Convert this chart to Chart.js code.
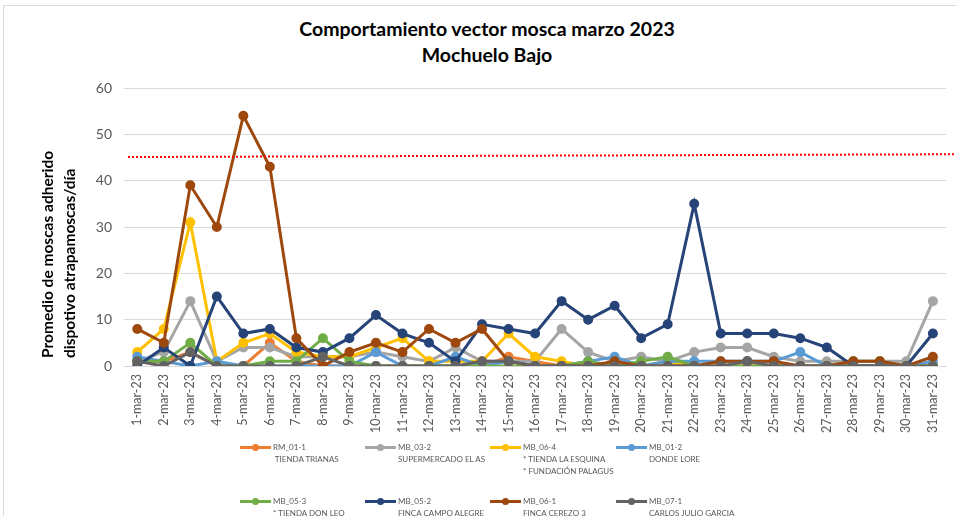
<!DOCTYPE html>
<html lang="es">
<head>
<meta charset="utf-8">
<title>Comportamiento vector mosca marzo 2023</title>
<script src="https://cdn.jsdelivr.net/npm/chart.js@4/dist/chart.umd.min.js"></script>
<style>
    body { margin: 0; background: #fff; font-family: Lato, 'Liberation Sans', sans-serif; }
    #contenedor { position: relative; width: 956px; height: 516px; overflow: hidden; }
    #marco { position: absolute; left: 3px; top: 5px; width: 970px; height: 530px; border: 1px solid #d9d9d9; }
    #titulo { position: absolute; left: 0; top: 16px; width: 974px; text-align: center; font-weight: bold; font-size: 19.5px; line-height: 26px; color: #000; }
    canvas { position: absolute; left: 0; top: 0; }
    .leyenda { position: absolute; font-size: 8px; line-height: 12px; color: #595959; white-space: pre; }
    .muestra { position: absolute; height: 3px; width: 31px; }
    .muestra i { position: absolute; left: 12px; top: -2px; width: 7px; height: 7px; border-radius: 50%; background: inherit; }
</style>
</head>
<body>
<div id="contenedor">
    <div id="marco"></div>
    <div id="titulo">Comportamiento vector mosca marzo 2023<br>Mochuelo Bajo</div>
    <canvas id="grafico" width="956" height="516"></canvas>
    <div id="leyenda"></div>
</div>
<script>
const fechas = ['1-mar-23', '2-mar-23', '3-mar-23', '4-mar-23', '5-mar-23', '6-mar-23', '7-mar-23', '8-mar-23',
    '9-mar-23', '10-mar-23', '11-mar-23', '12-mar-23', '13-mar-23', '14-mar-23', '15-mar-23', '16-mar-23',
    '17-mar-23', '18-mar-23', '19-mar-23', '20-mar-23', '21-mar-23', '22-mar-23', '23-mar-23', '24-mar-23',
    '25-mar-23', '26-mar-23', '27-mar-23', '28-mar-23', '29-mar-23', '30-mar-23', '31-mar-23'];

const rm011 = [1, 1, 3, 0, 0, 5, 1, 0, 0, 0, 0, 0, 0, 0, 2, 1, 0, 0, 0, 0, 0, 0, 0, 0, 0, 0, 0, 0, 0, 0, 0];
const mb032 = [1, 3, 14, 1, 4, 4, 2, 2, 2, 3, 2, 1, 4, 1, 1, 1, 8, 3, 1, 2, 1, 3, 4, 4, 2, 1, 1, 1, 1, 1, 14];
const mb064 = [3, 8, 31, 1, 5, 7, 3, 2, 2, 4, 6, 1, 1, 1, 7, 2, 1, 0, 0, 0, 1, 0, 0, 0, 0, 0, 0, 0, 0, 0, 0];
const mb012 = [2, 1, 0, 1, 0, 0, 0, 0, 0, 3, 0, 0, 2, 0, 1, 0, 0, 1, 2, 0, 1, 1, 1, 1, 1, 3, 0, 0, 0, 0, 1];
const mb053 = [1, 1, 5, 0, 0, 1, 1, 6, 1, 0, 0, 0, 0, 0, 0, 0, 0, 1, 0, 1, 2, 0, 0, 0, 0, 0, 0, 1, 1, 0, 0];
const mb052 = [0, 4, 0, 15, 7, 8, 4, 3, 6, 11, 7, 5, 1, 9, 8, 7, 14, 10, 13, 6, 9, 35, 7, 7, 7, 6, 4, 0, 0, 0, 7];
const mb061 = [8, 5, 39, 30, 54, 43, 6, 0, 3, 5, 3, 8, 5, 8, 1, 0, 0, 0, 1, 0, 0, 0, 1, 1, 1, 0, 0, 1, 1, 0, 2];
const mb071 = [1, 0, 3, 0, 0, 0, 0, 2, 0, 0, 0, 0, 0, 1, 1, 0, 0, 0, 0, 0, 0, 0, 0, 1, 0, 0, 0, 0, 0, 0, 0];

// umbral de referencia (línea punteada roja), valor al inicio y al final
const umbralInicio = 45.1;
const umbralFin = 45.7;

const ticksY = [0, 10, 20, 30, 40, 50, 60];

const series = [
    { codigo: 'RM_01-1', sitio: ' TIENDA TRIANAS', datos: rm011, color: '#ED7D31' },
    { codigo: 'MB_03-2', sitio: 'SUPERMERCADO EL AS', datos: mb032, color: '#A5A5A5' },
    { codigo: 'MB_06-4', sitio: '* TIENDA LA ESQUINA\n* FUNDACIÓN PALAGUS', datos: mb064, color: '#FFC000' },
    { codigo: 'MB_01-2', sitio: 'DONDE LORE', datos: mb012, color: '#5B9BD5' },
    { codigo: 'MB_05-3', sitio: '* TIENDA DON LEO', datos: mb053, color: '#70AD47' },
    { codigo: 'MB_05-2', sitio: 'FINCA CAMPO ALEGRE', datos: mb052, color: '#264478' },
    { codigo: 'MB_06-1', sitio: 'FINCA CEREZO 3', datos: mb061, color: '#9E480E' },
    { codigo: 'MB_07-1', sitio: 'CARLOS JULIO GARCIA', datos: mb071, color: '#636363' }
];

// línea de umbral y título del eje Y dibujados sobre el canvas
const extras = {
    id: 'extras',
    afterDatasetsDraw(chart) {
        const ctx = chart.ctx;
        const y = chart.scales.y;
        ctx.save();
        ctx.strokeStyle = '#FF0000';
        ctx.lineWidth = 2;
        ctx.setLineDash([2, 2]);
        ctx.beginPath();
        ctx.moveTo(128, y.getPixelForValue(umbralInicio));
        ctx.lineTo(chart.width, y.getPixelForValue(umbralFin));
        ctx.stroke();
        ctx.restore();
    },
    afterDraw(chart) {
        const ctx = chart.ctx;
        ctx.save();
        ctx.fillStyle = '#000';
        ctx.font = 'bold 15.5px Lato';
        ctx.textBaseline = 'middle';
        ctx.textAlign = 'left';
        ctx.translate(48, 358);
        ctx.rotate(-Math.PI / 2);
        ctx.fillText('Promedio de moscas adherido', 0, 0);
        ctx.fillText('dispotivo atrapamoscas/día', 0, 22);
        ctx.restore();
    }
};

new Chart(document.getElementById('grafico'), {
    type: 'line',
    data: {
        labels: fechas,
        datasets: series.map((s, i) => ({
            label: s.codigo,
            data: s.datos,
            borderColor: s.color,
            backgroundColor: s.color,
            borderWidth: 3,
            pointRadius: 3.5,
            pointHoverRadius: 3.5,
            tension: 0,
            fill: false,
            order: series.length - i
        }))
    },
    options: {
        responsive: false,
        animation: false,
        layout: { padding: { top: 88, right: 6, bottom: 76, left: 0 } },
        plugins: {
            legend: { display: false },
            tooltip: { enabled: false }
        },
        scales: {
            x: {
                offset: true,
                grid: { display: false, drawTicks: false },
                border: { display: true, color: '#d9d9d9' },
                ticks: {
                    minRotation: 90,
                    maxRotation: 90,
                    autoSkip: false,
                    padding: 8,
                    color: '#595959',
                    font: { family: 'Lato', size: 12.5 }
                },
                afterFit(scale) { scale.height = 74; }
            },
            y: {
                min: 0,
                max: 60,
                afterBuildTicks(scale) { scale.ticks = ticksY.map(v => ({ value: v })); },
                grid: { color: '#d9d9d9', drawTicks: false },
                border: { display: false },
                ticks: {
                    padding: 12,
                    color: '#595959',
                    font: { family: 'Lato', size: 14 }
                },
                afterFit(scale) { scale.width = 124; }
            }
        }
    },
    plugins: [extras]
});

// leyenda de dos filas con el código de la trampa y el sitio
const leyenda = document.getElementById('leyenda');
const columnas = [240, 365, 490, 616];
const filas = [441, 495];
series.forEach((s, i) => {
    const x = columnas[i % 4];
    const y = filas[Math.floor(i / 4)];
    const muestra = document.createElement('div');
    muestra.className = 'muestra';
    muestra.style.left = x + 'px';
    muestra.style.top = (y + 5) + 'px';
    muestra.style.background = s.color;
    muestra.appendChild(document.createElement('i'));
    leyenda.appendChild(muestra);
    const texto = document.createElement('div');
    texto.className = 'leyenda';
    texto.style.left = (x + 33) + 'px';
    texto.style.top = y + 'px';
    texto.textContent = s.codigo + '\n' + s.sitio;
    leyenda.appendChild(texto);
});
</script>
</body>
</html>
